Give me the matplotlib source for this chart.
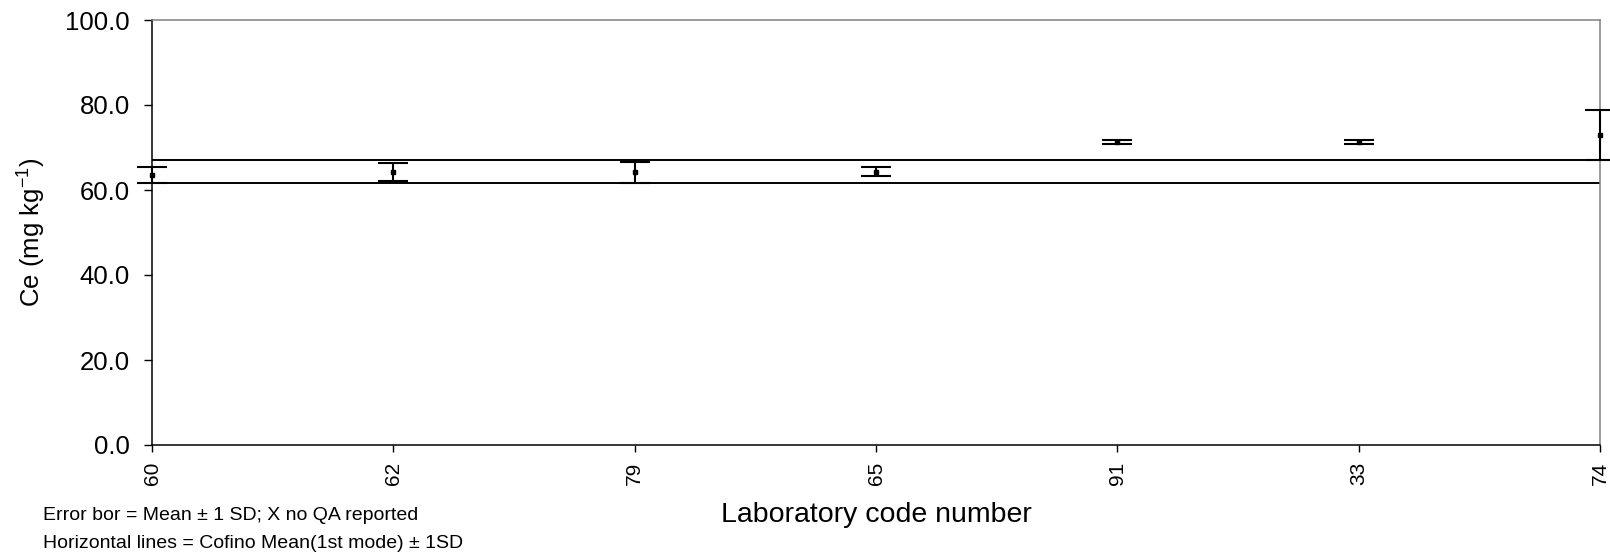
import numpy as np
import matplotlib
matplotlib.use('Agg')
import matplotlib.pyplot as plt
from matplotlib.ticker import FormatStrFormatter

plt.rcParams['font.family'] = ['Liberation Sans', 'DejaVu Sans']
plt.rcParams['axes.unicode_minus'] = False
plt.rcParams['mathtext.default'] = 'regular'

# lab codes in plotting order
labs = ['60', '62', '79', '65', '91', '33', '74']
means = [63.5, 64.15, 64.15, 64.35, 71.35, 71.35, 72.95]
sds = [1.8, 2.15, 2.55, 0.95, 0.45, 0.45, 5.85]

# consensus mean (1st mode) +/- 1 SD
cons_mean = 64.35
cons_sd = 2.75

fig = plt.figure(figsize=(16.1, 5.6), dpi=100)
ax = fig.add_axes([152 / 1610, 1 - 445 / 560, 1448 / 1610, 425 / 560])

x = np.arange(len(labs))
ax.errorbar(x, means, yerr=sds, fmt='s', color='black', ms=3.5,
            ecolor='black', elinewidth=1.5, capsize=11, capthick=1.5,
            clip_on=False, zorder=3)

ax.axhline(cons_mean + cons_sd, color='black', lw=1.4)
ax.axhline(cons_mean - cons_sd, color='black', lw=1.4)

ax.set_xlim(0, len(labs) - 1)
ax.set_ylim(0, 100)
ax.set_yticks(np.arange(0, 101, 20))
ax.yaxis.set_major_formatter(FormatStrFormatter('%.1f'))
ax.set_xticks(x)
ax.set_xticklabels(labs, rotation=90, fontsize=15)
ax.tick_params(axis='y', labelsize=18.5, length=6, width=1, pad=10)
ax.tick_params(axis='x', length=5, width=1, pad=7)

for s in ['left', 'bottom']:
    ax.spines[s].set_color('black')
    ax.spines[s].set_linewidth(1.1)
for s in ['top', 'right']:
    ax.spines[s].set_color('#808080')
    ax.spines[s].set_linewidth(1.1)

ax.set_ylabel('Ce (mg kg$^{-1}$)', fontsize=18.5, labelpad=12)
fig.text(876 / 1610, 1 - 515 / 560, 'Laboratory code number', fontsize=20.5,
         ha='center', va='center')

fig.text(43 / 1610, 1 - 515 / 560, 'Error bor = Mean \u00b1 1 SD; X no QA reported',
         fontsize=14, ha='left', va='center')
fig.text(43 / 1610, 1 - 543 / 560, 'Horizontal lines = Cofino Mean(1st mode) \u00b1 1SD',
         fontsize=14, ha='left', va='center')

fig.savefig('out.png', dpi=100, facecolor='white')
